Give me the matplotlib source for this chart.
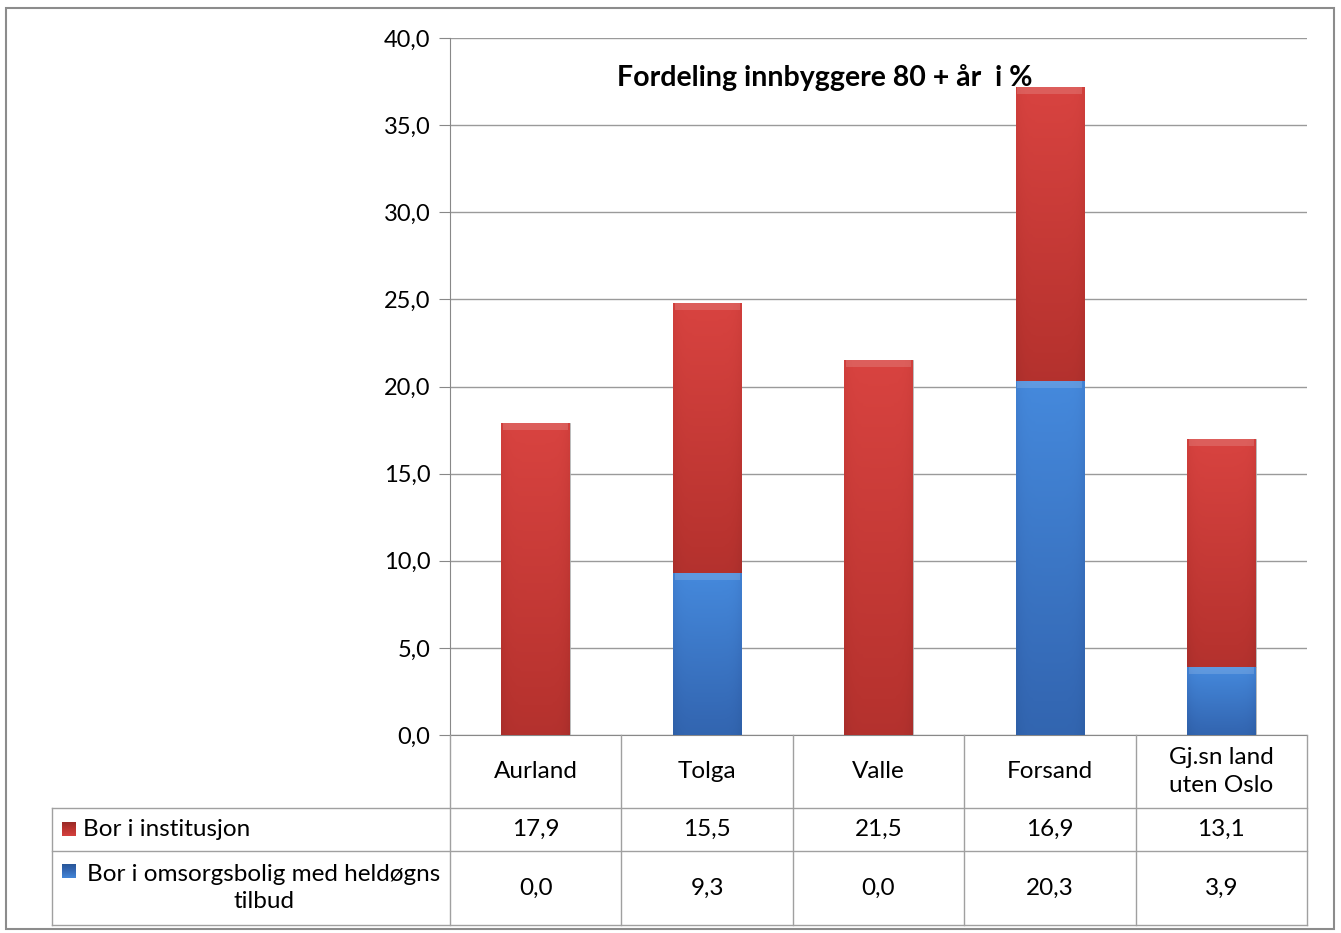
import numpy as np
import matplotlib
matplotlib.use("Agg")
import matplotlib.pyplot as plt
from matplotlib.patches import Rectangle
from matplotlib.colors import LinearSegmentedColormap

categories = ["Aurland", "Tolga", "Valle", "Forsand", "Gj.sn land\nuten Oslo"]
institusjon = [17.9, 15.5, 21.5, 16.9, 13.1]
omsorgsbolig = [0.0, 9.3, 0.0, 20.3, 3.9]
series_names = ["Bor i institusjon", "Bor i omsorgsbolig med heldøgns\ntilbud"]
title = "Fordeling innbyggere 80 + år  i %"
yticks = [0, 5, 10, 15, 20, 25, 30, 35, 40]

plt.rcParams['font.family'] = ['Lato', 'DejaVu Sans']
FS = 17.5
FT = 17

W, H = 1341, 933
fig = plt.figure(figsize=(W / 100, H / 100), dpi=100)

def fx(px):
    return px / W

def fy(py):
    return 1 - py / H

L, R, T, B = 450, 1307, 38, 735
ax = fig.add_axes([fx(L), fy(B), fx(R) - fx(L), fy(T) - fy(B)])
ax.set_xlim(-0.5, len(categories) - 0.5)
ax.set_ylim(0, 40)
ax.set_yticks(yticks)
ax.set_yticklabels([f"{v:.1f}".replace(".", ",") for v in yticks], fontsize=FT)
ax.tick_params(axis='y', length=8, color='#888888', pad=6)
ax.set_xticks([])
ax.grid(axis='y', color='#9a9a9a', linewidth=1)
ax.set_axisbelow(True)
for s in ['top', 'right']:
    ax.spines[s].set_visible(False)
ax.spines['left'].set_color('#888888')
ax.spines['bottom'].set_color('#888888')

red_cmap = LinearSegmentedColormap.from_list("r", ["#8e2624", "#b8332f", "#d84340"])
blue_cmap = LinearSegmentedColormap.from_list("b", ["#24508f", "#3468b4", "#4589dc"])

def grad_bars(bars, cmap):
    for bar in bars:
        h = bar.get_height()
        if h <= 0:
            continue
        x0, y0 = bar.get_x(), bar.get_y()
        w = bar.get_width()
        yy = np.linspace(0, 1, 64)[:, None]
        xx = np.linspace(-1, 1, 32)[None, :]
        g = 0.45 + 0.55 * yy - 0.12 * xx ** 6
        g = np.clip(g, 0, 1)
        im = ax.imshow(g, cmap=cmap, vmin=0, vmax=1, origin='lower',
                       extent=[x0, x0 + w, y0, y0 + h], aspect='auto', zorder=3)
        im.set_clip_path(bar)
        bar.set_facecolor('none')
        bar.set_edgecolor('#b0b0b0')
        bar.set_linewidth(0.6)
        bev = min(0.4, h * 0.5)
        ax.fill_between([x0 + 0.01, x0 + w - 0.01], y0 + h - bev, y0 + h, color='white',
                        alpha=0.15, zorder=4, linewidth=0)

x = np.arange(len(categories))
b1 = ax.bar(x, omsorgsbolig, width=0.4, zorder=2)
b2 = ax.bar(x, institusjon, width=0.4, bottom=omsorgsbolig, zorder=2)
grad_bars(b1, blue_cmap)
grad_bars(b2, red_cmap)
ax.set_xlim(-0.5, len(categories) - 0.5)
ax.set_ylim(0, 40)

ax.text(0.4376, 0.944, title, transform=ax.transAxes, ha='center', va='center',
        fontsize=20.5, fontweight='bold')

ov = fig.add_axes([0, 0, 1, 1])
ov.set_xlim(0, W)
ov.set_ylim(H, 0)
ov.axis('off')
ov.patch.set_alpha(0)

lc = '#a0a0a0'
ov.add_patch(Rectangle((6, 8), 1328, 921, fill=False, edgecolor='#8c8c8c', linewidth=1.5))

cols = [L + i * (R - L) / len(categories) for i in range(len(categories) + 1)]
r0, r1, r2, r3 = B, 808, 851, 925
for cx in cols:
    ov.plot([cx, cx], [r0, r3], color=lc, linewidth=1)
for ry in [r1, r2, r3]:
    ov.plot([52, R], [ry, ry], color=lc, linewidth=1)
ov.plot([52, 52], [r1, r3], color=lc, linewidth=1)

for i, c in enumerate(categories):
    cx = (cols[i] + cols[i + 1]) / 2
    ov.text(cx, (r0 + r1) / 2, c, ha='center', va='center', fontsize=FS, linespacing=1.4)
    ov.text(cx, (r1 + r2) / 2, f"{institusjon[i]:.1f}".replace(".", ","),
            ha='center', va='center', fontsize=FS)
    ov.text(cx, (r2 + r3) / 2, f"{omsorgsbolig[i]:.1f}".replace(".", ","),
            ha='center', va='center', fontsize=FS)

for (ky, cmap) in [((r1 + r2) / 2, red_cmap), (871, blue_cmap)]:
    g = np.linspace(0, 1, 16)[:, None] * np.ones((1, 8))
    ov.imshow(g, cmap=cmap, vmin=-0.2, vmax=1.1, extent=[62, 76, ky + 7, ky - 7],
              aspect='auto', zorder=3)
ov.set_xlim(0, W)
ov.set_ylim(H, 0)
ov.text(83, (r1 + r2) / 2, series_names[0], ha='left', va='center', fontsize=FS)
ov.text(264, (r2 + r3) / 2, series_names[1], ha='center', va='center', fontsize=FS,
        multialignment='center', linespacing=1.4)

fig.savefig("out.png", dpi=100)
